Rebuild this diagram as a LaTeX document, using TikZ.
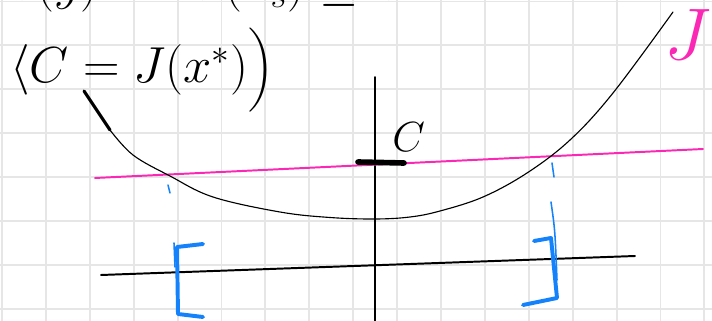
\documentclass[tikz,border=0pt]{standalone}
\usepackage{fix-cm}
\usepackage{amsmath}
\usepackage{xcolor}
\usepackage{tikz}

\definecolor{gridgray}{RGB}{230,230,230}
\definecolor{penpink}{RGB}{250,40,180}
\definecolor{penblue}{RGB}{20,130,250}

\begin{document}
\begin{tikzpicture}[x=0.025cm, y=-0.025cm, line cap=round, line join=round,
    gridline/.style={gridgray, line width=1.4pt},
    ink/.style={black, line width=1.4pt},
    bracket/.style={penblue, line width=2.8pt},
    hint/.style={penblue, line width=1.1pt},
    hand/.style={anchor=base west, inner sep=0pt, font=\fontsize{36}{40}\selectfont}]
    \clip (0,0) rectangle (712,321);
    \fill[white] (0,0) rectangle (712,321);

    % Grid paper
    \foreach \i in {0,...,16}
        \draw[gridline] (2+43.9*\i,0) -- (2+43.9*\i,321);
    \foreach \j in {0,...,7}
        \draw[gridline] (0,1.5+43.9*\j) -- (712,1.5+43.9*\j);

    % Handwritten lines
    \node[hand] (cond) at (8,0) {$\forall(y)\ \mathrm{s.t.}\ J(x_s) \le C$};
    \node[hand] (level) at (10,83) {$\langle C = J(x^{*})\Big)$};

    % Axes
    \draw[ink] (101,275) -- (635,256);
    \draw[ink] (375,77) -- (375,321);

    % Level C
    \draw[penpink, line width=1.4pt] (95,178) -- (703,149);
    \draw[black, line width=4pt] (358,162) -- (404,163);
    \node[hand, font=\fontsize{30}{34}\selectfont] (clabel) at (392,152) {$C$};

    % Cost curve J
    \draw[black, line width=2.2pt] (84,91) -- (110,130);
    \draw[black, line width=0.8pt] plot[smooth, tension=0.6] coordinates
        {(110,130) (133,155) (170,176) (213,197) (280,212) (330,217.5) (375,219)
         (410,217) (440,211) (483,197) (527,173) (570,140) (613,93) (673,12)};
    \node[hand, text=penpink, font=\fontsize{52}{56}\selectfont] (cost) at (664,60) {$J$};

    % Interval on the axis
    \draw[hint] (168,185) -- (170,193);
    \draw[hint] (552,163) -- (554,177);
    \draw[hint] (551,202) .. controls (555,230) .. (557,280);
    \draw[hint] (174,243) -- (175,267);
    \draw[bracket] (203,244) -- (177,247) -- (178,314) -- (203,317);
    \draw[bracket] (534,241) -- (551,238) -- (557,298) -- (523,305);
\end{tikzpicture}
\end{document}
